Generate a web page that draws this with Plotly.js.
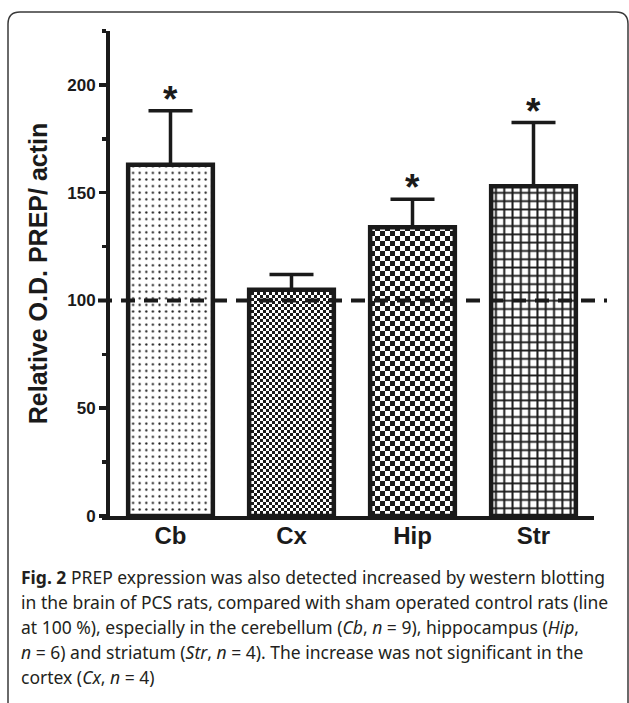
<!DOCTYPE html>
<html>
<head>
<meta charset="utf-8">
<script src="https://cdn.plot.ly/plotly-3.0.1.min.js"></script>
<style>
  html, body { margin: 0; padding: 0; background: #ffffff; }
  #chart { width: 629px; height: 703px; }
</style>
</head>
<body>
<div id="chart"></div>
<script>
// ---- data ----
const categories = ['Cb', 'Cx', 'Hip', 'Str'];
const values = [163, 105, 134, 153];
const errors = [25, 7, 13, 29.5];
const significant = [true, false, true, true];
const controlLevel = 100;
const yTickVals = [0, 50, 100, 150, 200];
const yTitle = 'Relative O.D. PREP/ actin';
const captionLines = [
  '<b>Fig. 2</b> PREP expression was also detected increased by western blotting',
  'in the brain of PCS rats, compared with sham operated control rats (line',
  'at 100 %), especially in the cerebellum (<i>Cb</i>, <i>n</i> = 9), hippocampus (<i>Hip</i>,',
  '<i>n</i> = 6) and striatum (<i>Str</i>, <i>n</i> = 4). The increase was not significant in the',
  'cortex (<i>Cx</i>, <i>n</i> = 4)'
];

// ---- styles ----
const INK = '#1a1a1a';
const W = 629, H = 703;
const M = { l: 110, r: 35, t: 31, b: 187 };
const plotW = W - M.l - M.r, plotH = H - M.t - M.b;
const px2x = (px) => (px - M.l) / plotW;
const py2y = (py) => (H - M.b - py) / plotH;

const patternShapes = ['.', 'x', 'x', '+'];
const patternSizes = [6.6, 6, 10, 8.3];
const patternSolidity = [0.09, 0.5, 0.5, 0.42];
const checkerSquares = [0, 3, 5, 0]; // replaced by a checkerboard after drawing

const trace = {
  type: 'bar',
  x: categories,
  y: values,
  marker: {
    color: 'white',
    line: { color: INK, width: 4.5 },
    pattern: {
      shape: patternShapes,
      size: patternSizes,
      solidity: patternSolidity,
      fgcolor: INK,
      bgcolor: 'white',
      fillmode: 'replace'
    }
  },
  error_y: {
    type: 'data',
    symmetric: false,
    array: errors,
    arrayminus: errors.map(() => 0),
    color: INK,
    thickness: 3.5,
    width: 22
  },
  hoverinfo: 'skip'
};

const annotations = [];
categories.forEach((c, i) => {
  if (significant[i]) {
    annotations.push({
      x: c, y: values[i] + errors[i], xref: 'x', yref: 'y',
      text: '*', showarrow: false, yanchor: 'bottom', yshift: -11,
      font: { family: 'Liberation Sans, Arial, sans-serif', size: 37, weight: 'bold', color: INK }
    });
  }
});
const captionTop = 577, captionStep = 25;
captionLines.forEach((t, k) => {
  annotations.push({
    xref: 'paper', yref: 'paper',
    x: px2x(19), y: py2y(captionTop + k * captionStep),
    xanchor: 'left', yanchor: 'middle',
    text: t, showarrow: false, align: 'left',
    font: { family: 'Noto Sans, Open Sans, sans-serif', size: 17.5, color: '#231f20' }
  });
});

const shapes = [
  // dashed control line at 100 %
  {
    type: 'line', xref: 'paper', yref: 'y',
    x0: px2x(98), x1: px2x(607), y0: controlLevel, y1: controlLevel,
    line: { color: INK, width: 4, dash: '14px,9px' }, layer: 'above'
  },
  // small extension of the x axis to the left of the y axis
  {
    type: 'line', xref: 'paper', yref: 'paper',
    x0: px2x(102), x1: px2x(112), y0: py2y(518), y1: py2y(518),
    line: { color: INK, width: 4 }, layer: 'above'
  },
  // figure frame (rounded)
  {
    type: 'path', xref: 'paper', yref: 'paper', layer: 'below',
    path: 'M ' + px2x(8) + ',' + py2y(705) +
          ' L ' + px2x(8) + ',' + py2y(24) +
          ' Q ' + px2x(8) + ',' + py2y(12) + ' ' + px2x(20) + ',' + py2y(12) +
          ' L ' + px2x(616) + ',' + py2y(12) +
          ' Q ' + px2x(628) + ',' + py2y(12) + ' ' + px2x(628) + ',' + py2y(24) +
          ' L ' + px2x(628) + ',' + py2y(705),
    line: { color: '#3a3a3a', width: 1.5 }
  }
];

const layout = {
  width: W, height: H,
  margin: M,
  paper_bgcolor: 'white',
  plot_bgcolor: 'white',
  showlegend: false,
  bargap: 0.3,
  xaxis: {
    type: 'category',
    range: [-0.5, 3.5],
    showline: true, linecolor: INK, linewidth: 4,
    ticks: '', showgrid: false, zeroline: false,
    ticklabelstandoff: -5,
    tickfont: { family: 'Liberation Sans, Arial, sans-serif', size: 24, weight: 'bold', color: INK },
    fixedrange: true
  },
  yaxis: {
    range: [0, 225],
    tickvals: yTickVals,
    ticks: 'outside', ticklen: 7, tickwidth: 3.5, tickcolor: INK,
    showline: true, linecolor: INK, linewidth: 4,
    showgrid: false, zeroline: false,
    minor: { dtick: 25, tick0: 0, ticks: 'outside', ticklen: 4, tickwidth: 3.5, tickcolor: INK, showgrid: false },
    tickfont: { family: 'Liberation Sans, Arial, sans-serif', size: 17, weight: 'bold', color: INK },
    title: { text: yTitle, standoff: 13, font: { family: 'Liberation Sans, Arial, sans-serif', size: 25, weight: 'bold', color: INK } },
    automargin: false,
    fixedrange: true
  },
  shapes: shapes,
  annotations: annotations
};

const gd = document.getElementById('chart');
Plotly.newPlot(gd, [trace], layout, { staticPlot: true, displayModeBar: false }).then(() => {
  // turn the two 'x' fills into checkerboards, as in the reference
  const NS = 'http://www.w3.org/2000/svg';
  const bars = gd.querySelectorAll('.barlayer .trace .point path');
  bars.forEach((p, i) => {
    const s = checkerSquares[i];
    if (!s) return;
    const fill = p.style.fill || p.getAttribute('fill') || '';
    const m = fill.match(/#([^"')\s]+)/);
    if (!m) return;
    const pat = document.getElementById(m[1]);
    if (!pat) return;
    while (pat.firstChild) pat.removeChild(pat.firstChild);
    pat.setAttribute('width', 2 * s);
    pat.setAttribute('height', 2 * s);
    const bg = document.createElementNS(NS, 'rect');
    bg.setAttribute('width', 2 * s); bg.setAttribute('height', 2 * s);
    bg.setAttribute('fill', 'white');
    pat.appendChild(bg);
    const sq = document.createElementNS(NS, 'path');
    sq.setAttribute('d', 'M0,0h' + s + 'v' + s + 'h-' + s + 'z M' + s + ',' + s + 'h' + s + 'v' + s + 'h-' + s + 'z');
    sq.setAttribute('fill', INK);
    pat.appendChild(sq);
  });
});
</script>
</body>
</html>
